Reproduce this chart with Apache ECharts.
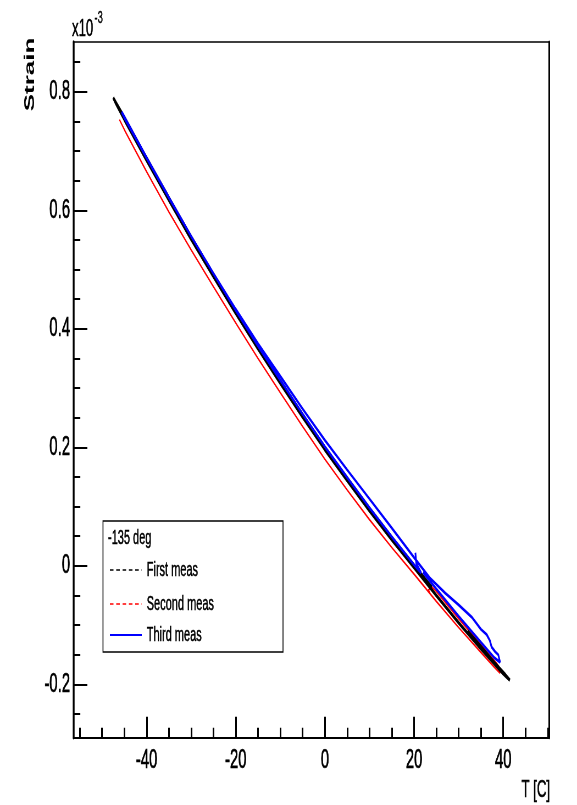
<!DOCTYPE html>
<html>
<head>
<meta charset="utf-8">
<script src="https://cdn.jsdelivr.net/npm/echarts@6/dist/echarts.min.js"></script>
<style>
html,body{margin:0;padding:0;overflow:hidden;background:#fff;}
#wrap{width:577px;height:805px;overflow:hidden;position:relative;}
#c{width:1050px;height:805px;transform:scaleX(0.549524);transform-origin:0 0;position:absolute;left:0;top:0;}
</style>
</head>
<body>
<div id="wrap"><div id="c"></div></div>
<script>
// Tick positions / labels
const xMajorTicks = [-40, -20, 0, 20, 40];
const xMinorTicks = [-55, -50, -45, -35, -30, -25, -15, -10, -5, 5, 10, 15, 25, 30, 35, 45, 50];
const yMajorTicks = [-0.2, 0, 0.2, 0.4, 0.6, 0.8];
const yMinorTicks = [-0.25, -0.15, -0.1, -0.05, 0.05, 0.1, 0.15, 0.25, 0.3, 0.35, 0.45, 0.5, 0.55, 0.65, 0.7, 0.75, 0.85];

const legendHeader = "-135 deg";
const seriesNames = ["First meas", "Second meas", "Third meas"];

// Strain (x10^-3) vs T [C]
const firstMeas = [
  [24, -0.036], [20, 0.001], [15, 0.048], [10, 0.097], [5, 0.148], [0, 0.200], [-5, 0.255], [-10, 0.312],
  [-15, 0.370], [-20, 0.430], [-25, 0.492], [-30, 0.555], [-35, 0.621], [-40, 0.688], [-45, 0.757], [-47.5, 0.790],
  [-47, 0.782], [-45, 0.753], [-40, 0.684], [-35, 0.617], [-30, 0.551], [-25, 0.488], [-20, 0.426], [-15, 0.366],
  [-10, 0.308], [-5, 0.251], [0, 0.196], [5, 0.144], [10, 0.093], [15, 0.044], [20, -0.003], [25, -0.050],
  [30, -0.096], [35, -0.140], [40, -0.182], [41.5, -0.193],
  [40.5, -0.184], [38, -0.163], [35, -0.136], [32, -0.110]
];
const secondMeas = [
  [-46.1, 0.753], [-45, 0.736], [-40, 0.665], [-35, 0.597], [-30, 0.533], [-25, 0.471], [-20, 0.410], [-15, 0.350],
  [-10, 0.292], [-5, 0.235], [0, 0.180], [5, 0.128], [10, 0.078], [15, 0.031], [20, -0.014], [25, -0.060],
  [30, -0.104], [35, -0.146], [38, -0.171], [39.3, -0.181], [39.0, -0.170], [38.5, -0.164],
  [37, -0.151], [35, -0.133], [30, -0.089], [25, -0.043], [24, -0.036], [23.2, -0.041], [23.6, -0.046]
];
const thirdMeas = [
  [20.3, 0.022], [20.5, 0.004], [21.6, -0.012], [21.0, -0.007], [20, 0.002], [15, 0.049], [10, 0.098], [5, 0.149],
  [0, 0.201], [-5, 0.256], [-10, 0.313], [-15, 0.371], [-20, 0.431], [-25, 0.493], [-30, 0.556], [-35, 0.622],
  [-40, 0.689], [-45.6, 0.766],
  [-45, 0.756], [-40, 0.688], [-35, 0.621], [-30, 0.556], [-25, 0.493], [-20, 0.433], [-15, 0.375], [-10, 0.320],
  [-5, 0.265], [0, 0.212], [5, 0.162], [10, 0.113], [15, 0.064], [20, 0.014], [23.5, -0.020], [27, -0.046],
  [30, -0.066], [33, -0.087], [35, -0.107], [36.3, -0.116], [37, -0.126], [37.4, -0.137], [38.2, -0.145],
  [38.9, -0.150], [39.3, -0.163],
  [38, -0.155], [35, -0.129], [30, -0.085], [25, -0.039], [22, -0.011]
];

const FONT = "'Liberation Sans', Arial, Helvetica, sans-serif";
const X_MIN = -56.45, X_MAX = 50.35, Y_MIN = -0.29, Y_MAX = 0.884;

const chart = echarts.init(document.getElementById('c'), null, {renderer: 'canvas', width: 1050, height: 805});

const baseX = {type: 'value', min: X_MIN, max: X_MAX, splitLine: {show: false}, gridIndex: 0};
const baseY = {type: 'value', min: Y_MIN, max: Y_MAX, splitLine: {show: false}, gridIndex: 0};

const fmt = v => (Math.abs(v) < 1e-9 ? '0' : String(+v.toFixed(2)));
const TB = {textBorderColor: '#000', textBorderWidth: 0.7};

const option = {
  animation: false,
  backgroundColor: '#ffffff',
  grid: {left: 133.4, right: 50.4, top: 42, bottom: 67.3, containLabel: false},
  xAxis: [
    Object.assign({}, baseX, {
      position: 'bottom',
      axisLine: {show: true, onZero: false, lineStyle: {color: '#000', width: 2}},
      axisTick: {show: true, inside: true, length: 21, customValues: xMajorTicks, lineStyle: {color: '#000', width: 3}},
      axisLabel: Object.assign({show: true, customValues: xMajorTicks, margin: 9, color: '#000', fontSize: 27, fontFamily: FONT, formatter: fmt}, TB)
    }),
    Object.assign({}, baseX, {
      position: 'bottom',
      axisLine: {show: false, onZero: false},
      axisTick: {show: true, inside: true, length: 10, customValues: xMinorTicks, lineStyle: {color: '#000', width: 3}},
      axisLabel: {show: false}
    }),
    Object.assign({}, baseX, {
      position: 'top',
      axisLine: {show: true, onZero: false, lineStyle: {color: '#000', width: 1.5}},
      axisTick: {show: false},
      axisLabel: {show: false}
    })
  ],
  yAxis: [
    Object.assign({}, baseY, {
      position: 'left',
      axisLine: {show: true, onZero: false, lineStyle: {color: '#000', width: 3.5}},
      axisTick: {show: true, inside: true, length: 25.5, customValues: yMajorTicks, lineStyle: {color: '#000', width: 2}},
      axisLabel: Object.assign({show: true, customValues: yMajorTicks, margin: 6, color: '#000', fontSize: 27, fontFamily: FONT, formatter: fmt}, TB)
    }),
    Object.assign({}, baseY, {
      position: 'left',
      axisLine: {show: false, onZero: false},
      axisTick: {show: true, inside: true, length: 12.7, customValues: yMinorTicks, lineStyle: {color: '#000', width: 2}},
      axisLabel: {show: false}
    }),
    Object.assign({}, baseY, {
      position: 'right',
      axisLine: {show: true, onZero: false, lineStyle: {color: '#000', width: 3}},
      axisTick: {show: false},
      axisLabel: {show: false}
    })
  ],
  series: [
    {name: seriesNames[1], type: 'line', data: secondMeas, showSymbol: false, symbol: 'none', smooth: false,
     lineStyle: {color: '#ff0000', width: 2.0}, xAxisIndex: 0, yAxisIndex: 0, z: 2},
    {name: seriesNames[0], type: 'line', data: firstMeas, showSymbol: false, symbol: 'none', smooth: false,
     lineStyle: {color: '#000000', width: 3.6}, xAxisIndex: 0, yAxisIndex: 0, z: 3},
    {name: seriesNames[2], type: 'line', data: thirdMeas, showSymbol: false, symbol: 'none', smooth: false,
     lineStyle: {color: '#0000ff', width: 3.0}, xAxisIndex: 0, yAxisIndex: 0, z: 4}
  ],
  graphic: [
    // axis titles
    {type: 'text', x: 54.6, y: 74.5, rotation: Math.PI / 2,
     style: {text: 'Strain', font: 'bold 26px ' + FONT, fill: '#000', textAlign: 'center', textVerticalAlign: 'middle'}},
    {type: 'text', x: 1000.9, y: 790,
     style: {text: 'T [C]', font: '24px ' + FONT, fill: '#000', textAlign: 'right', textVerticalAlign: 'middle', stroke: '#000', lineWidth: 0.6}},
    {type: 'text', x: 131, y: 29,
     style: {text: 'x10', font: '24px ' + FONT, fill: '#000', textAlign: 'left', textVerticalAlign: 'middle', stroke: '#000', lineWidth: 0.5}},
    {type: 'text', x: 172, y: 18,
     style: {text: '-3', font: '17px ' + FONT, fill: '#000', textAlign: 'left', textVerticalAlign: 'middle', stroke: '#000', lineWidth: 0.4}},
    // legend box
    {type: 'rect', shape: {x: 187.4, y: 521, width: 327.6, height: 131},
     style: {fill: '#fff', stroke: '#000', lineWidth: 1.6}, z: 10},
    {type: 'text', x: 196.5, y: 538.5, z: 11,
     style: {text: legendHeader, font: '20px ' + FONT, fill: '#000', textAlign: 'left', textVerticalAlign: 'middle', stroke: '#000', lineWidth: 0.5}},
    {type: 'line', shape: {x1: 200, y1: 570, x2: 258, y2: 570}, z: 11,
     style: {stroke: '#000', lineWidth: 1.5, lineDash: [6.5, 5]}},
    {type: 'text', x: 267, y: 570, z: 11,
     style: {text: seriesNames[0], font: '20px ' + FONT, fill: '#000', textAlign: 'left', textVerticalAlign: 'middle', stroke: '#000', lineWidth: 0.5}},
    {type: 'line', shape: {x1: 200, y1: 604, x2: 258, y2: 604}, z: 11,
     style: {stroke: '#ff0000', lineWidth: 1.5, lineDash: [6.5, 5]}},
    {type: 'text', x: 267, y: 604, z: 11,
     style: {text: seriesNames[1], font: '20px ' + FONT, fill: '#000', textAlign: 'left', textVerticalAlign: 'middle', stroke: '#000', lineWidth: 0.5}},
    {type: 'line', shape: {x1: 200, y1: 635, x2: 258, y2: 635}, z: 11,
     style: {stroke: '#0000ff', lineWidth: 1.8}},
    {type: 'text', x: 267, y: 635, z: 11,
     style: {text: seriesNames[2], font: '20px ' + FONT, fill: '#000', textAlign: 'left', textVerticalAlign: 'middle', stroke: '#000', lineWidth: 0.5}}
  ]
};
chart.setOption(option);
</script>
</body>
</html>
